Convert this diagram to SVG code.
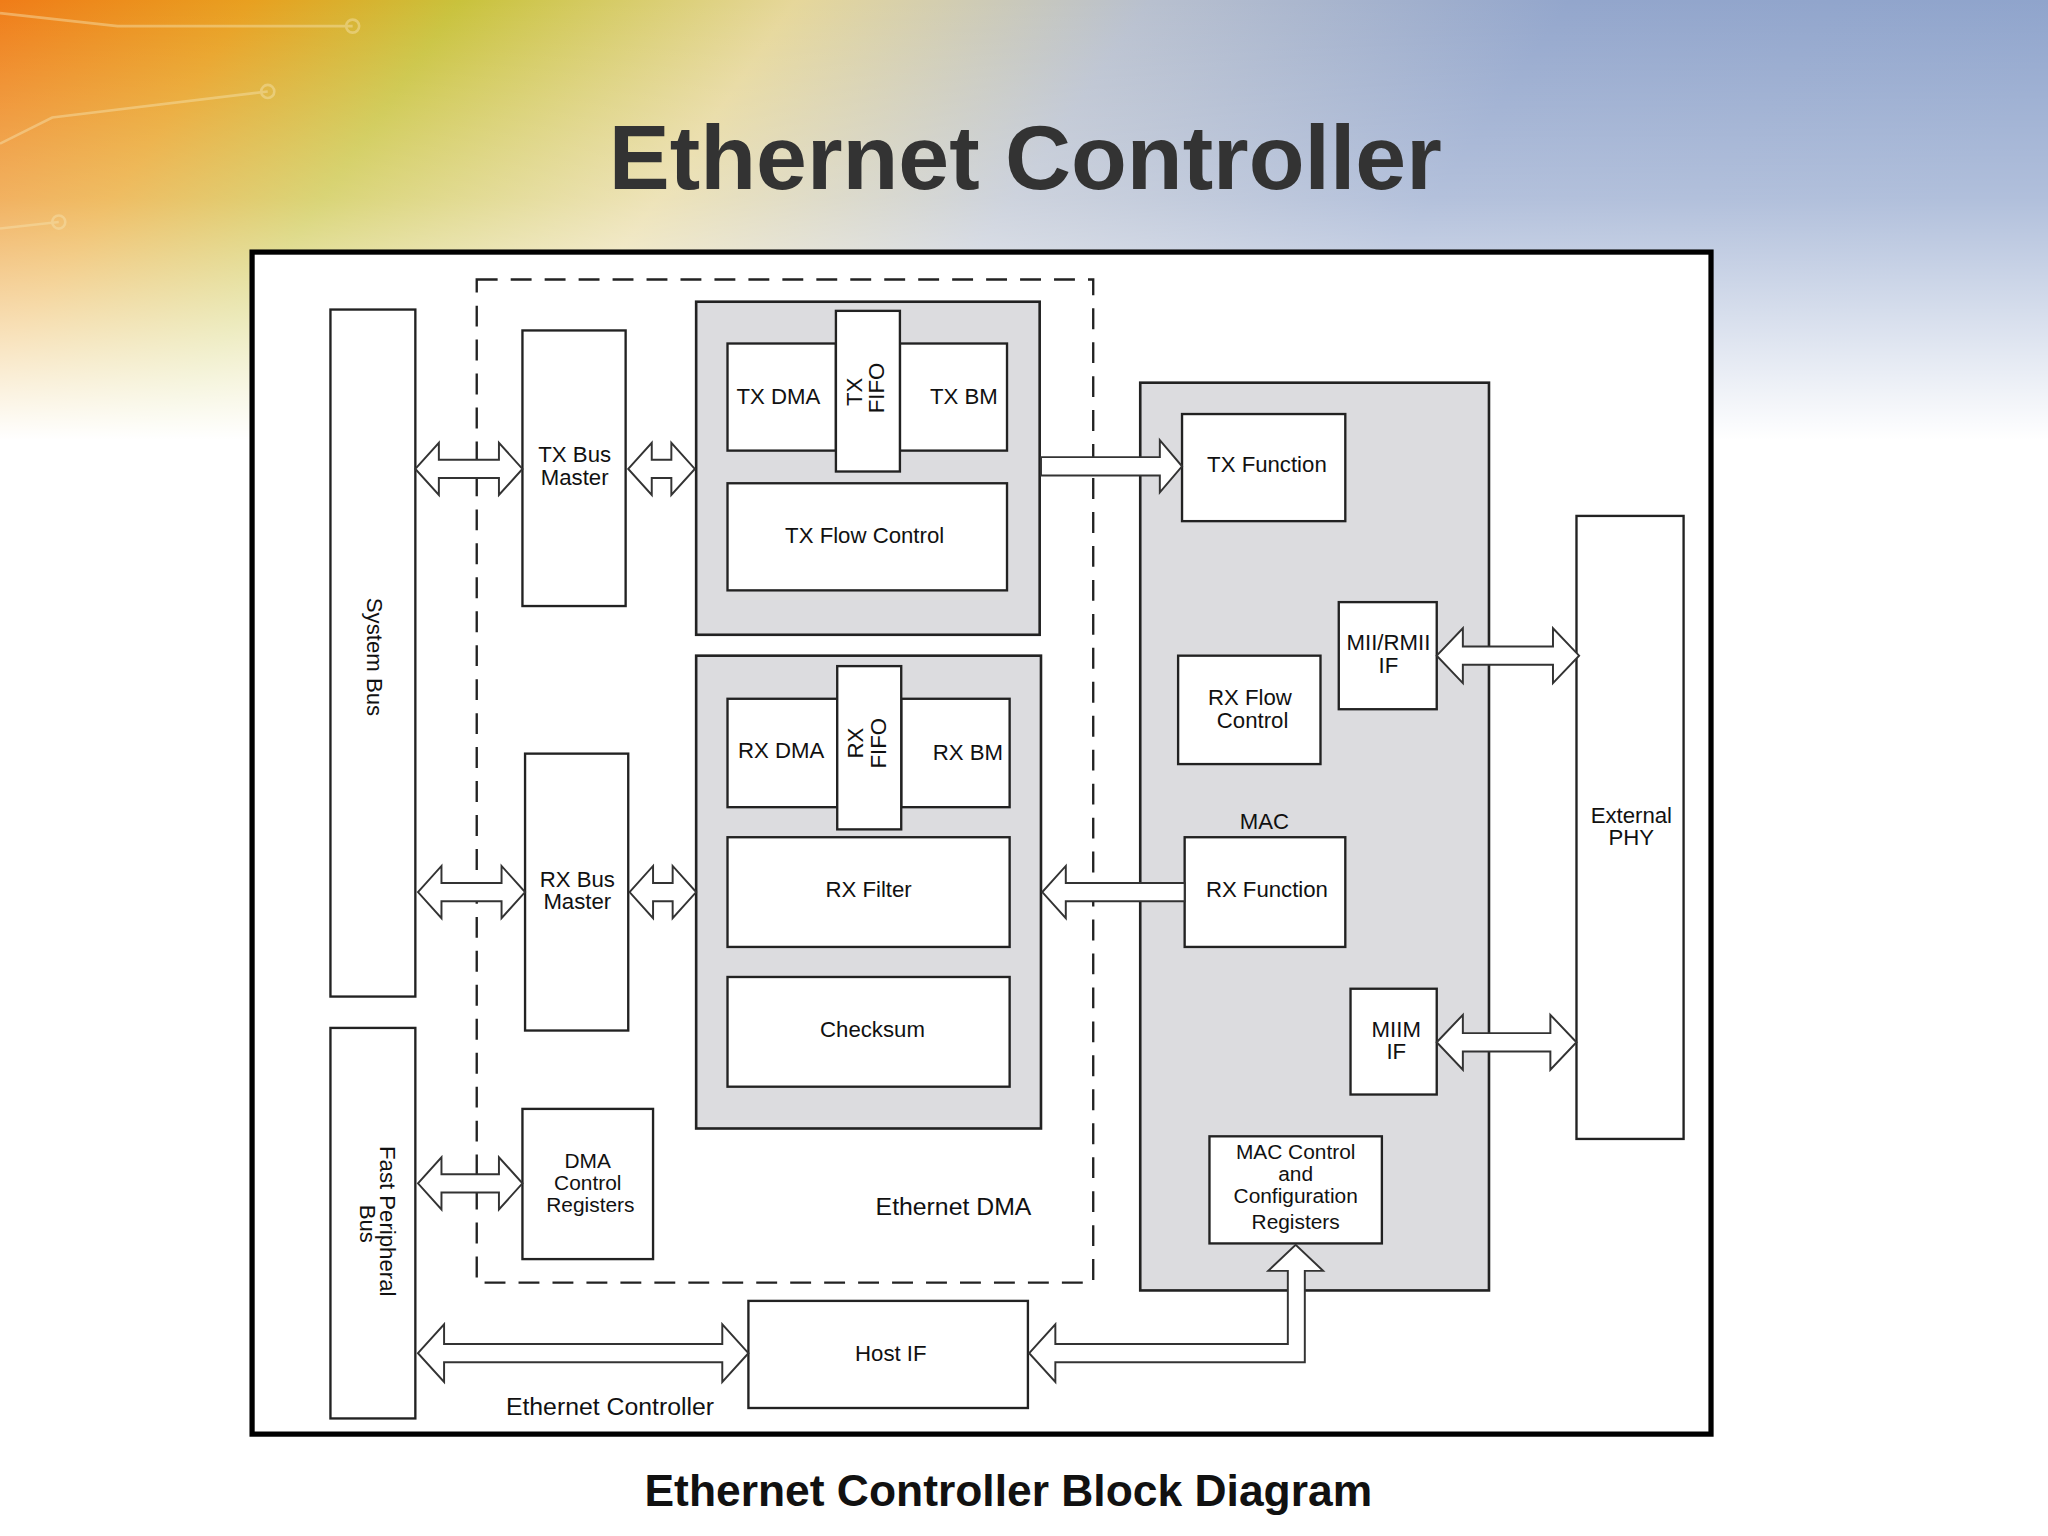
<svg xmlns="http://www.w3.org/2000/svg" width="2048" height="1536" viewBox="0 0 2048 1536">
<defs>
<linearGradient id="hg" x1="0" y1="0" x2="1" y2="0.15">
<stop offset="0" stop-color="#f07c18"/><stop offset="0.12" stop-color="#e8a020"/><stop offset="0.22" stop-color="#c9c23c"/><stop offset="0.38" stop-color="#e6d79a"/><stop offset="0.55" stop-color="#b8c0cf"/><stop offset="0.75" stop-color="#93a6cc"/><stop offset="1" stop-color="#8fa4cc"/>
</linearGradient>
<linearGradient id="fade" x1="0" y1="0" x2="0" y2="1">
<stop offset="0" stop-color="#fff" stop-opacity="0"/><stop offset="0.45" stop-color="#fff" stop-opacity="0.3"/><stop offset="1" stop-color="#fff" stop-opacity="1"/>
</linearGradient>
<style>
.b{fill:#fff;stroke:#222;stroke-width:1.8}
.g{fill:#dcdcdf;stroke:#222;stroke-width:2}
.a{fill:#fff;stroke:#333;stroke-width:1.5}
text{font-family:"Liberation Sans",Arial,sans-serif;fill:#111;font-size:17px;text-anchor:middle}
.s{font-size:16px}
</style>
</defs>
<rect width="2048" height="1536" fill="#fff"/>
<rect width="2048" height="440" fill="url(#hg)"/>
<rect width="2048" height="440" fill="url(#fade)"/>
<g transform="scale(1.30612)">
<g stroke="#f6e4b0" stroke-width="2" fill="none" opacity="0.45">
<path d="M0,10 L90,20 L270,20"/><circle cx="270" cy="20" r="5"/>
<path d="M0,110 L40,90 L205,70"/><circle cx="205" cy="70" r="5"/>
<path d="M0,175 L45,170"/><circle cx="45" cy="170" r="5"/>
</g>
<text x="785" y="145" style="font-size:70px;font-weight:bold;fill:#333">Ethernet Controller</text>
<rect x="193" y="193" width="1117" height="905" fill="#fff" stroke="#000" stroke-width="4"/>
<rect x="365" y="214" width="472" height="768" fill="none" stroke="#222" stroke-width="1.8" stroke-dasharray="16,10"/>
<g id="systembus"><rect class="b" x="253" y="237" width="65" height="526"/><text transform="translate(281,503) rotate(90)">System Bus</text></g>
<g id="fastbus"><rect class="b" x="253" y="787" width="65" height="299"/><text transform="translate(291,935) rotate(90)">Fast Peripheral</text><text transform="translate(276,937) rotate(90)">Bus</text></g>
<g id="txbm"><rect class="b" x="400" y="253" width="79" height="211"/><text x="440" y="354">TX Bus</text><text x="440" y="371">Master</text></g>
<g id="rxbm"><rect class="b" x="402" y="577" width="79" height="212"/><text x="442" y="679">RX Bus</text><text x="442" y="696">Master</text></g>
<g id="dmacr"><rect class="b" x="400" y="849" width="100" height="115"/><text class="s" x="450" y="894">DMA</text><text class="s" x="450" y="911">Control</text><text class="s" x="452" y="928">Registers</text></g>
<g id="txgroup"><rect class="g" x="533" y="231" width="263" height="255"/></g>
<g id="txdma"><rect class="b" x="557" y="263" width="83" height="82"/><text x="596" y="309">TX DMA</text></g>
<g id="txbmm"><rect class="b" x="689" y="263" width="82" height="82"/><text x="738" y="309">TX BM</text></g>
<g id="txfifo"><rect class="b" x="640" y="238" width="49" height="123"/><text transform="translate(660,300) rotate(-90)">TX</text><text transform="translate(677,297) rotate(-90)">FIFO</text></g>
<g id="txfc"><rect class="b" x="557" y="370" width="214" height="82"/><text x="662" y="416">TX Flow Control</text></g>
<g id="rxgroup"><rect class="g" x="533" y="502" width="264" height="362"/></g>
<g id="rxdma"><rect class="b" x="557" y="535" width="84" height="83"/><text x="598" y="580">RX DMA</text></g>
<g id="rxbmm"><rect class="b" x="690" y="535" width="83" height="83"/><text x="741" y="582">RX BM</text></g>
<g id="rxfifo"><rect class="b" x="641" y="510" width="49" height="125"/><text transform="translate(661,569) rotate(-90)">RX</text><text transform="translate(678,569) rotate(-90)">FIFO</text></g>
<g id="rxfilter"><rect class="b" x="557" y="641" width="216" height="84"/><text x="665" y="687">RX Filter</text></g>
<g id="checksum"><rect class="b" x="557" y="748" width="216" height="84"/><text x="668" y="794">Checksum</text></g>
<text x="730" y="930" style="font-size:19px">Ethernet DMA</text>
<g id="mac"><rect class="g" x="873" y="293" width="267" height="695"/><text x="968" y="635">MAC</text></g>
<g id="txfn"><rect class="b" x="905" y="317" width="125" height="82"/><text x="970" y="361">TX Function</text></g>
<g id="mii"><rect class="b" x="1025" y="461" width="75" height="82"/><text x="1063" y="498">MII/RMII</text><text x="1063" y="515">IF</text></g>
<g id="rxfc"><rect class="b" x="902" y="502" width="109" height="83"/><text x="957" y="540">RX Flow</text><text x="959" y="557">Control</text></g>
<g id="rxfn"><rect class="b" x="907" y="641" width="123" height="84"/><text x="970" y="687">RX Function</text></g>
<g id="miim"><rect class="b" x="1034" y="757" width="66" height="81"/><text x="1069" y="794">MIIM</text><text x="1069" y="811">IF</text></g>
<g id="macctl"><rect class="b" x="926" y="870" width="132" height="82"/><text class="s" x="992" y="887">MAC Control</text><text class="s" x="992" y="904">and</text><text class="s" x="992" y="921">Configuration</text><text class="s" x="992" y="941">Registers</text></g>
<g id="phy"><rect class="b" x="1207" y="395" width="82" height="477"/><text x="1249" y="630">External</text><text x="1249" y="647">PHY</text></g>
<g id="hostif"><rect class="b" x="573" y="996" width="214" height="82"/><text x="682" y="1042">Host IF</text></g>
<text x="467" y="1083" style="font-size:19px">Ethernet Controller</text>
<text x="772" y="1153" style="font-size:34px;font-weight:bold;fill:#111">Ethernet Controller Block Diagram</text>
<g id="connectors">
<path class="a" d="M318,359 L336,339 L336,352 L382,352 L382,339 L400,359 L382,379 L382,366 L336,366 L336,379 Z"/>
<path class="a" d="M481,359 L499,339 L499,352 L514,352 L514,339 L532,359 L514,379 L514,366 L499,366 L499,379 Z"/>
<path class="a" d="M320,683 L338,663 L338,676 L384,676 L384,663 L402,683 L384,703 L384,690 L338,690 L338,703 Z"/>
<path class="a" d="M482,683 L500,663 L500,676 L515,676 L515,663 L533,683 L515,703 L515,690 L500,690 L500,703 Z"/>
<path class="a" d="M320,906 L338,886 L338,899 L382,899 L382,886 L400,906 L382,926 L382,913 L338,913 L338,926 Z"/>
<path class="a" d="M320,1036 L340,1014 L340,1029 L553,1029 L553,1014 L573,1036 L553,1058 L553,1043 L340,1043 L340,1058 Z"/>
<path class="a" d="M1100,502 L1120,481 L1120,495 L1189,495 L1189,481 L1209,502 L1189,523 L1189,509 L1120,509 L1120,523 Z"/>
<path class="a" d="M1100,798 L1120,777 L1120,791 L1187,791 L1187,777 L1207,798 L1187,819 L1187,805 L1120,805 L1120,819 Z"/>
<path class="a" d="M797,350 L888,350 L888,337 L905,357 L888,377 L888,364 L797,364 Z"/>
<path class="a" d="M907,676 L816,676 L816,663 L798,683 L816,703 L816,690 L907,690 Z"/>
<path class="a" d="M788,1036 L808,1014 L808,1029 L986,1029 L986,973 L971,973 L992,953 L1013,973 L999,973 L999,1043 L808,1043 L808,1058 Z"/>
</g>
</g>
</svg>
